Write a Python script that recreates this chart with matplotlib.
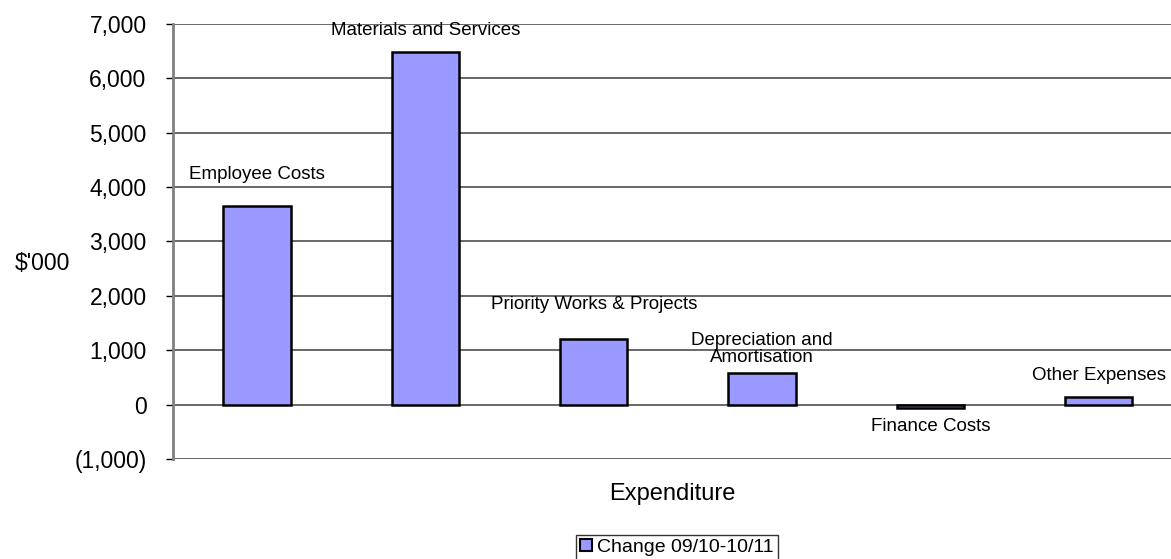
import matplotlib.pyplot as plt
from matplotlib.ticker import FuncFormatter

plt.rcParams['font.family'] = ['Liberation Sans', 'DejaVu Sans']

categories = ['Employee Costs', 'Materials and Services', 'Priority Works & Projects',
              'Depreciation and\nAmortisation', 'Finance Costs', 'Other Expenses']
change = [3660, 6490, 1210, 590, -60, 140]
series_name = 'Change 09/10-10/11'
label_offsets = [16.5, 9.5, 18.5, 5, -7, 9.5]  # points from bar end

fig = plt.figure(figsize=(11.71, 5.59), dpi=100)
ax = fig.add_axes([0.1477, 0.179, 0.8523, 0.778])

x = range(len(categories))
ax.bar(x, change, width=0.4, color='#9999ff', edgecolor='black', linewidth=1.8, zorder=3,
       label=series_name)

for i, (name, v) in enumerate(zip(categories, change)):
    off = label_offsets[i]
    ax.annotate(name, (i, max(v, 0) if off > 0 else min(v, 0)),
                xytext=(0, off), textcoords='offset points',
                ha='center', va='bottom' if off > 0 else 'top',
                fontsize=13.5, linespacing=1.0)

ax.set_xlim(-0.5, 5.43)
ax.set_ylim(-1000, 7000)
ax.set_yticks(range(-1000, 7001, 1000))
ax.yaxis.set_major_formatter(FuncFormatter(
    lambda v, p: f'({abs(v):,.0f})' if v < 0 else f'{v:,.0f}'))
ax.tick_params(axis='y', labelsize=16.5, length=5, color='black', width=1.0, pad=14)
ax.set_xticks([])
ax.grid(axis='y', color='#404040', linewidth=1.1, zorder=0)
for s in ['top', 'right', 'bottom']:
    ax.spines[s].set_visible(False)
ax.spines['left'].set_color('#808080')
ax.spines['left'].set_linewidth(2.0)

ax.set_ylabel("$'000", fontsize=16.5, rotation=0, ha='center', va='center')
ax.yaxis.set_label_coords(-0.131, 0.45)
ax.set_xlabel('Expenditure', fontsize=17, labelpad=17)

leg = ax.legend(loc='upper center', bbox_to_anchor=(0.505, -0.175), fontsize=14,
                frameon=True, fancybox=False, edgecolor='black', handlelength=0.6,
                handleheight=0.6, handletextpad=0.3, borderpad=0.2, borderaxespad=0)
leg.get_frame().set_linewidth(1.0)
leg.legend_handles[0].set_linewidth(1.5)

plt.savefig('out.png', dpi=100)
